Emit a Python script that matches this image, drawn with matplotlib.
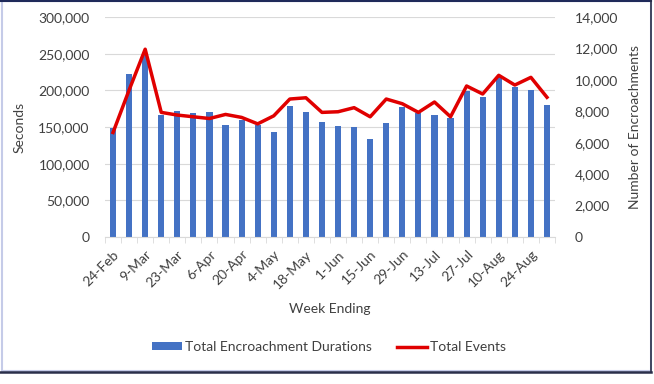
import numpy as np
import matplotlib.pyplot as plt
from matplotlib.patches import Rectangle

plt.rcParams['font.family'] = ['Lato', 'DejaVu Sans']

weeks = ['24-Feb', '2-Mar', '9-Mar', '16-Mar', '23-Mar', '30-Mar', '6-Apr', '13-Apr',
         '20-Apr', '27-Apr', '4-May', '11-May', '18-May', '25-May', '1-Jun', '8-Jun',
         '15-Jun', '22-Jun', '29-Jun', '6-Jul', '13-Jul', '20-Jul', '27-Jul', '3-Aug',
         '10-Aug', '17-Aug', '24-Aug', '31-Aug']

durations = [148000, 222000, 249000, 166000, 172000, 169000, 170000, 153000,
             159000, 153000, 143000, 178000, 171000, 157000, 152000, 150000,
             133000, 155000, 177000, 169000, 166000, 162000, 199000, 191000,
             219000, 204000, 201000, 180000]

events = [6650, 9350, 11950, 7930, 7760, 7650, 7540, 7800,
          7610, 7200, 7710, 8780, 8860, 7930, 7970, 8230,
          7650, 8780, 8480, 7930, 8590, 7650, 9610, 9100,
          10290, 9670, 10160, 8890]

txt = '#404040'
fs = 10
W, H = 654, 384
fig = plt.figure(figsize=(W / 100, H / 100), dpi=100)

# outer frame of the chart object
fig.patches.append(Rectangle((1.5 / W, 1 - 371 / H), 649 / W, 370 / H,
                             transform=fig.transFigure, fill=False,
                             edgecolor='#c5cbe8', linewidth=1.5))
fig.add_artist(plt.Line2D([0, 651 / W], [1 - 1 / H] * 2, color='#1f2a5a', lw=1.5))
fig.add_artist(plt.Line2D([0, 651 / W], [1 - 371.5 / H] * 2, color='#2a2f4a', lw=1.8))
fig.add_artist(plt.Line2D([650.5 / W] * 2, [1 - 371.5 / H, 1], color='#2a2f4a', lw=1.2))

ax = fig.add_axes([105 / W, 1 - 237 / H, (555 - 105) / W, (237 - 17) / H])
x = np.arange(len(weeks))
ax.bar(x, durations, width=0.38, color='#4472c4', label='Total Encroachment Durations', zorder=2)
ax.set_xlim(-0.5, len(weeks) - 0.5)
ax.set_ylim(0, 300000)
ax.set_yticks(np.arange(0, 300001, 50000))
ax.yaxis.set_major_formatter(plt.FuncFormatter(lambda v, p: f'{v:,.0f}'))
ax.grid(axis='y', color='#d9d9d9', linewidth=0.8, zorder=0)
ax.set_axisbelow(True)
for s in ['top', 'right', 'left']:
    ax.spines[s].set_visible(False)
ax.spines['bottom'].set_color('#d9d9d9')
ax.tick_params(axis='y', length=0, labelsize=fs, labelcolor=txt, pad=11)
ax.set_xticks(x[::2])
ax.set_xticklabels(weeks[::2], rotation=45, ha='right', rotation_mode='anchor',
                   fontsize=fs, color=txt)
ax.set_xticks(np.arange(-0.5, len(weeks), 1), minor=True)
ax.tick_params(axis='x', which='major', length=0, pad=8)
ax.tick_params(axis='x', which='minor', length=4, color='#d9d9d9')
ax.set_ylabel('Seconds', fontsize=fs, color=txt, labelpad=9)
ax.set_xlabel('Week Ending', fontsize=fs, color=txt, labelpad=9)

ax2 = ax.twinx()
ax2.plot(x, events, color='#e00000', linewidth=2.5, label='Total Events', zorder=3)
ax2.set_ylim(0, 14000)
ax2.set_yticks(np.arange(0, 14001, 2000))
ax2.yaxis.set_major_formatter(plt.FuncFormatter(lambda v, p: f'{v:,.0f}'))
for s in ['top', 'right', 'left', 'bottom']:
    ax2.spines[s].set_visible(False)
ax2.tick_params(axis='y', length=0, labelsize=fs, labelcolor=txt, pad=14)
ax2.set_ylabel('Number of Encroachments', fontsize=fs, color=txt, labelpad=8)

h1, l1 = ax.get_legend_handles_labels()
h2, l2 = ax2.get_legend_handles_labels()
fig.legend(h1 + h2, l1 + l2, loc='center', bbox_to_anchor=(329 / W, 1 - 347 / H),
           ncol=2, frameon=False, fontsize=fs, labelcolor=txt, handlelength=2.2,
           handletextpad=0.2, columnspacing=1.8, handleheight=0.5)

fig.savefig('out.png', dpi=100, facecolor='white')
